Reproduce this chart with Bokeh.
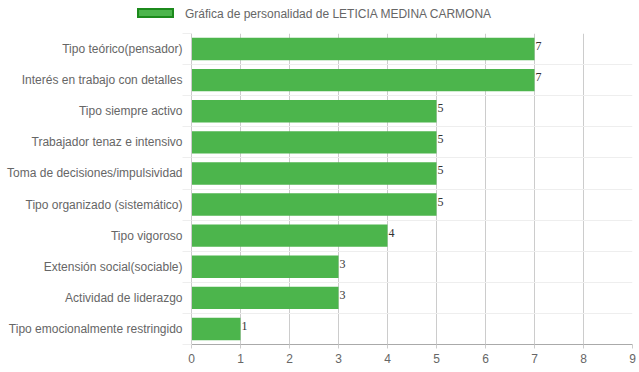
from bokeh.plotting import figure
from bokeh.layouts import column
from bokeh.models import ColumnDataSource, Range1d, FixedTicker, Div
from bokeh.core.properties import value
from bokeh.embed import file_html
from bokeh.resources import INLINE

categories = [
    "Tipo teórico(pensador)",
    "Interés en trabajo con detalles",
    "Tipo siempre activo",
    "Trabajador tenaz e intensivo",
    "Toma de decisiones/impulsividad",
    "Tipo organizado (sistemático)",
    "Tipo vigoroso",
    "Extensión social(sociable)",
    "Actividad de liderazgo",
    "Tipo emocionalmente restringido",
]
scores = [7, 7, 5, 5, 5, 5, 4, 3, 3, 1]
x_ticks = [0, 1, 2, 3, 4, 5, 6, 7, 8, 9]
series_name = "Gráfica de personalidad de LETICIA MEDINA CARMONA"

positions = list(range(len(categories)))
src = ColumnDataSource(dict(y=positions, score=scores, label=[str(s) for s in scores]))

FONT = "Liberation Sans"
GREEN = "#4cb54c"

# ---- legend strip ----
legend_html = (
    '<div style="position:relative;width:638px;height:33px;">'
    f'<div style="position:absolute;left:137px;top:8px;width:37px;height:10px;'
    f'background:{GREEN};border:2px solid #1c8a1c;"></div>'
    f'<span style="position:absolute;left:185px;top:6px;font-family:\'{FONT}\';'
    f'font-size:12px;line-height:16px;color:#666666;white-space:nowrap;">{series_name}</span>'
    '</div>'
)
lg = Div(text=legend_html, width=638, height=33, margin=(0, 0, 0, 0))

# ---- main chart ----
p = figure(frame_width=441, frame_height=311, output_backend="svg", toolbar_location=None,
           x_range=Range1d(0, 9), y_range=Range1d(len(categories) - 0.5, -0.5),
           min_border_left=191, min_border_right=6, min_border_top=0, min_border_bottom=26)
p.outline_line_color = None
p.background_fill_color = "white"

p.hbar(y="y", right="score", left=0, height=0.72, source=src,
       fill_color=GREEN, line_color=None)

p.text(x="score", y="y", text="label", source=src, x_offset=1, y_offset=-3,
       text_font=value("Liberation Serif"), text_font_size="12px",
       text_color="#333333", text_align="left", text_baseline="middle")

p.xaxis.ticker = FixedTicker(ticks=x_ticks)
p.xaxis.axis_line_color = "#aaaaaa"
p.xaxis.major_tick_line_color = "#cccccc"
p.xaxis.major_tick_out = 4
p.xaxis.major_tick_in = 0
p.xaxis.minor_tick_line_color = None
p.xaxis.major_label_standoff = 5
p.xaxis.major_label_text_font = FONT
p.xaxis.major_label_text_font_size = "12px"
p.xaxis.major_label_text_color = "#666666"

boundaries = [i - 0.5 for i in range(len(categories) + 1)]
p.yaxis.ticker = FixedTicker(ticks=positions, minor_ticks=boundaries)
p.yaxis.major_label_overrides = {i: c for i, c in enumerate(categories)}
p.yaxis.axis_line_color = "#cccccc"
p.yaxis.major_tick_line_color = None
p.yaxis.major_tick_out = 0
p.yaxis.major_tick_in = 0
p.yaxis.minor_tick_line_color = "#eeeeee"
p.yaxis.minor_tick_out = 9
p.yaxis.minor_tick_in = 0
p.yaxis.major_label_standoff = 0
p.yaxis.major_label_text_font = FONT
p.yaxis.major_label_text_font_size = "12px"
p.yaxis.major_label_text_color = "#666666"

p.xgrid.ticker = FixedTicker(ticks=x_ticks)
p.xgrid.grid_line_color = "#cccccc"
p.ygrid.ticker = FixedTicker(ticks=boundaries)
p.ygrid.grid_line_color = "#eeeeee"

layout = column(lg, p, spacing=0)
open("out.html", "w").write(file_html(layout, INLINE))
